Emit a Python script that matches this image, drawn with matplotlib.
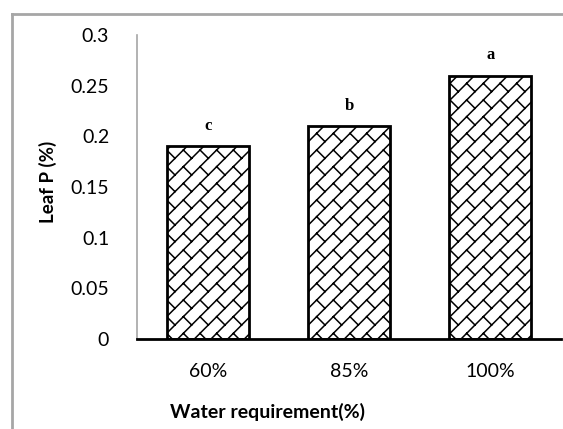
"""
Leaf P bar chart with Excel-like shingle hatch.
"""

import numpy as np
import matplotlib
matplotlib.use('Agg')
import matplotlib.pyplot as plt
import matplotlib.hatch as mhatch
from matplotlib.path import Path
from matplotlib.lines import Line2D

# data
categories = ['60%', '85%', '100%']
leaf_p = [0.19, 0.21, 0.26]
letters = ['c', 'b', 'a']
y_ticks = [0, 0.05, 0.1, 0.15, 0.2, 0.25, 0.3]
y_tick_labels = ['0', '0.05', '0.1', '0.15', '0.2', '0.25', '0.3']


class ShingleHatch(mhatch.HatchPatternBase):
    """Diagonal '/' lines with short staggered '\\' ticks between them."""

    def __init__(self, hatch, density):
        n = 6 * hatch.count('/')
        self.lines = []
        for i in range(-n, n + 1):
            c = i / n
            self.lines.append(((c - 1, -1), (c + 2, 2)))
        for i in range(-n, n):
            c = i / n
            for j in range(-n, 2 * n + 1):
                a = j / n
                self.lines.append(((a, a - c), (a + 0.5 / n, a - c - 0.5 / n)))
        self.num_vertices = 2 * len(self.lines) if n > 0 else 0

    def set_vertices_and_codes(self, vertices, codes):
        pts = np.array(self.lines).reshape(-1, 2)
        vertices[:] = pts
        codes[0::2] = Path.MOVETO
        codes[1::2] = Path.LINETO


mhatch._hatch_types[:] = [ShingleHatch if h is mhatch.NorthEastHatch else h
                          for h in mhatch._hatch_types]

plt.rcParams['hatch.linewidth'] = 1.1
plt.rcParams['hatch.color'] = 'black'

fig = plt.figure(figsize=(5.63, 4.29), dpi=100)
ax = fig.add_axes([137 / 563, 1 - 339 / 429, 424 / 563, 304 / 429])

x = np.arange(len(categories))
bars = ax.bar(x, leaf_p, width=0.58, color='white', edgecolor='black',
              linewidth=2, hatch='/')

for bar, letter in zip(bars, letters):
    ax.annotate(letter, (bar.get_x() + bar.get_width() / 2, bar.get_height()),
                xytext=(0, 9), textcoords='offset points', ha='center',
                va='bottom', fontsize=12, fontweight='bold',
                family='Liberation Serif')

ax.set_xlim(-0.5, 2.5)
ax.set_ylim(0, 0.3)
ax.set_yticks(y_ticks)
ax.set_yticklabels(y_tick_labels)
ax.set_xticks(x)
ax.set_xticklabels(categories)
ax.tick_params(axis='both', length=0, labelsize=14)
ax.tick_params(axis='y', pad=20)
ax.tick_params(axis='x', pad=17)
for lbl in ax.get_xticklabels() + ax.get_yticklabels():
    lbl.set_family('Lato')

for s in ['top', 'right']:
    ax.spines[s].set_visible(False)
ax.spines['left'].set_color('#a6a6a6')
ax.spines['left'].set_linewidth(1.2)
ax.spines['bottom'].set_color('black')
ax.spines['bottom'].set_linewidth(2)

fig.text(268 / 563, 1 - 412 / 429, 'Water requirement(%)', ha='center',
         va='center', fontsize=14, fontweight='bold', family='Lato')
fig.text(48 / 563, 1 - 182 / 429, 'Leaf P (%)', ha='center', va='center',
         rotation=90, fontsize=13.5, fontweight='bold', family='Lato')

# outer chart frame
fx, fy = 12 / 563, 1 - 14 / 429
fig.add_artist(Line2D([fx, fx], [0, fy], color='#a6a6a6', lw=2,
                      transform=fig.transFigure))
fig.add_artist(Line2D([fx, 1], [fy, fy], color='#a6a6a6', lw=2,
                      transform=fig.transFigure))

fig.savefig('out.png', dpi=100)
